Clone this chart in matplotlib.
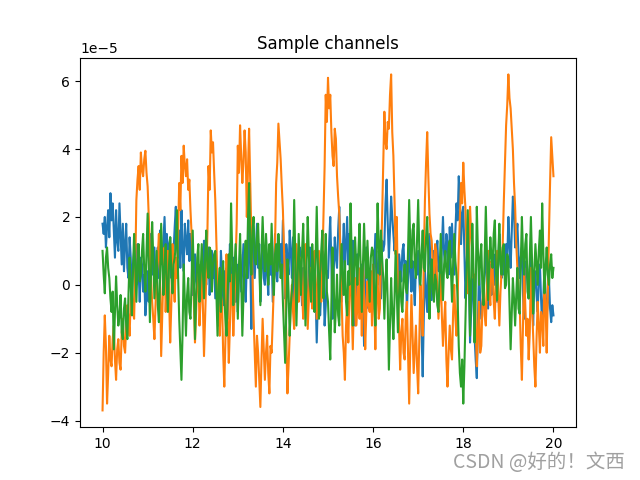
import numpy as np
import matplotlib; matplotlib.use("Agg")
import matplotlib.pyplot as plt

# three channels, values in units of 1e-5, one every 0.025 s from 10 s to 20 s
ch1 = [1.8, 1.5, 2.0, 1.1, 1.7, 2.2, 1.4, 2.7, 1.9, 2.4,
       1.6, 0.8, 2.2, 1.3, 1.0, 2.4, 1.5, 0.6, 1.8, 0.4,
       1.2, 1.8, 0.5, 0.2, 1.4, 0.8, -0.3, 0.6, 1.0, 0.3,
       0.0, 1.2, 0.4, -0.5, 0.8, 0.6, -0.2, 0.3, -0.9, -0.4,
       0.4, -0.5, 0.9, 1.5, 0.3, 0.7, 1.1, 0.0, 0.6, 1.1,
       0.2, 1.6, 0.9, 0.6, 1.3, 2.0, 0.8, 1.5, 0.5, 1.2,
       1.4, 0.2, 0.9, 1.0, 1.7, 2.3, 1.1, 0.8, 1.6, 0.5,
       2.2, 1.0, 0.4, 1.8, 1.3, 0.9, 1.9, 0.7, 1.5, 1.0,
       -0.3, 0.5, 0.9, 0.1, -0.1, 0.6, 0.3, -0.2, 0.7, 0.0,
       1.3, 0.4, 0.0, 0.8, 1.1, -0.3, 0.5, 1.0, 0.2, 0.7,
       -0.4, 0.7, 0.2, -1.2, -0.5, 1.0, 0.3, -0.6, 0.4, -0.2,
       0.5, -1.0, 0.1, 1.2, 0.4, -0.3, 0.8, 0.0, -0.5, 0.6,
       -0.8, 0.3, 0.9, -0.2, 0.5, 1.2, 0.1, -0.5, 0.7, 0.2,
       2.2, 0.8, -1.3, 0.4, 1.5, 0.2, 1.0, 1.8, 0.5, 1.2,
       -0.5, 0.6, 1.3, 0.2, 0.0, 0.9, 0.4, -0.3, 0.8, 0.3,
       1.0, -0.5, 0.5, 1.5, 0.3, 0.1, 0.9, 0.7, 1.2, 0.4,
       1.9, 0.6, -0.4, 1.2, 0.8, 0.3, 1.6, 1.0, 0.2, 1.4,
       -0.8, 0.3, 0.8, -0.2, 0.4, 1.1, 0.0, -0.6, 0.5, 0.2,
       0.6, -0.2, -1.0, 0.4, 1.1, 0.1, -0.4, 0.8, 0.5, -0.3,
       -1.7, -0.5, 0.3, -0.9, -0.2, 1.0, 0.2, -1.2, -0.6, 0.4,
       0.2, 1.2, 2.0, 0.6, -1.0, 0.3, 1.4, 0.8, 0.5, 1.6,
       2.3, 1.0, -0.5, 0.9, 1.8, 0.4, 1.2, 2.0, 0.6, 1.5,
       -0.3, 0.6, 1.3, 0.2, -1.2, -0.2, 0.9, 0.3, -0.6, 0.5,
       0.6, -0.4, -1.8, 0.2, 1.1, 0.3, -0.7, -0.1, 0.4, -0.5,
       -0.7, 0.5, 1.5, 0.4, 0.0, 1.0, 0.6, -0.4, 1.3, 1.0,
       1.2, 2.4, 3.1, 1.8, 0.8, 1.6, 2.6, 2.0, 1.5, 1.0,
       1.4, 0.5, -0.3, 0.9, 0.6, 0.1, 1.0, 1.2, 0.3, 0.7,
       -0.8, 0.2, 1.2, 0.4, -0.2, 0.7, 0.0, -0.6, 0.6, 0.3,
       1.0, 0.2, -0.5, -1.4, -2.7, -0.9, 0.4, -0.2, -0.8, 0.6,
       1.5, 0.5, -0.45, 0.6, 1.0, 0.2, 0.9, 1.3, 0.4, 0.8,
       0.0, 1.1, 2.0, 0.9, 0.6, 1.5, 1.2, 0.3, 1.7, 0.8,
       1.8, 0.9, 0.3, 1.6, 2.4, 1.9, 3.2, 2.5, 1.2, 2.1,
       2.3, 1.0, -0.4, 0.6, 1.4, 0.2, -1.7, -0.8, 0.5, -0.3,
       -1.5, -2.2, -2.75, -1.2, 0.5, -0.4, -1.0, -0.6, -0.2, 0.3,
       1.1, 0.3, -0.7, 0.2, 0.6, -0.3, 0.4, 0.9, 0.0, 0.5,
       -0.5, 0.6, 1.5, 0.8, 0.2, 1.0, 0.3, 0.4, 1.2, 0.7,
       2.0, 1.2, 0.5, 1.6, 2.6, 2.2, 1.1, 1.4, 1.8, 0.9,
       0.2, 0.8, 1.1, -0.3, -1.0, 0.1, 0.7, 0.3, -0.4, 0.5,
       1.0, -0.2, -1.2, 0.1, 0.4, -0.3, -0.8, 0.2, 0.6, -0.4,
       -1.2, -0.4, 0.5, -0.2, -0.9, -0.5, 0.2, -0.7, -1.1, -0.6,
       -0.9]
ch2 = [-3.7, -2.0, -0.9, -1.8, -3.5, -2.6, -1.5, -2.2, -2.4, -1.6,
       -1.2, -2.2, -2.8, -1.9, -1.6, -2.3, -2.5, -1.4, -1.0, -1.8,
       -2.0, -1.2, -0.6, -1.0, -1.5, -0.4, 0.0, -0.8, -1.0, 0.5,
       2.5, 3.1, 3.5, 2.8, 3.9, 3.4, 3.2, 3.7, 3.95, 3.3,
       2.9, 2.0, 1.0, 0.2, -0.5, -1.0, -1.6, -0.6, 0.3, 0.8,
       1.5, 0.3, -2.1, -0.9, 0.4, 1.1, -0.8, 0.2, 1.0, -0.3,
       -1.7, -0.6, 1.2, 0.1, -0.5, 0.8, 0.2, 1.5, 3.0, 2.2,
       3.8, 3.0, 4.1, 3.5, 3.2, 3.7, 2.8, 3.1, 2.2, 1.5,
       0.9, -0.5, -1.7, -0.8, 0.2, 0.6, -1.2, -0.4, 0.5, -0.6,
       -2.1, -1.0, 0.2, 1.5, 3.5, 2.8, 4.55, 3.9, 4.2, 3.3,
       2.5, 1.2, 0.0, -0.8, -1.5, -0.3, -0.5, -2.0, -3.0, -1.6,
       0.9, -0.8, -2.3, -1.2, 0.3, -0.2, -1.5, -0.6, 0.6, 1.8,
       4.1, 3.3, 4.7, 3.8, 3.0, 3.6, 4.55, 3.9, 2.0, 3.4,
       4.6, 3.0, 1.5, 0.2, -1.0, -2.0, -3.0, -1.5, -2.0, -2.8,
       -3.6, -2.2, -1.0, -1.9, -2.8, -2.0, -1.5, -2.6, -3.2, -1.8,
       -2.0, -1.0, 0.0, 1.2, 3.0, 3.6, 4.75, 4.2, 3.7, 2.9,
       2.2, 1.0, 0.0, -1.5, -3.2, -2.4, -1.5, -0.5, 0.0, -0.8,
       -1.3, 0.2, 1.2, 0.3, -0.5, 0.6, 0.8, -0.2, -1.0, 0.4,
       1.2, 0.1, -1.3, -0.4, 0.5, -0.2, -0.7, 0.6, 1.0, 0.0,
       -1.0, 0.2, 1.0, 0.3, -0.5, 0.6, 2.0, 3.5, 5.6, 4.8,
       6.1, 5.2, 5.6, 4.5, 3.8, 3.5, 4.6, 4.3, 3.2, 2.6,
       2.1, 0.9, -0.3, -1.5, -2.0, -2.8, -1.2, -0.5, -1.7, -0.2,
       0.7, -0.6, -1.9, -0.4, 0.2, -1.2, -0.7, 0.5, -1.0, 0.1,
       -1.5, 0.7, -0.3, -1.9, -0.8, 0.1, -0.6, -0.8, 0.4, -1.2,
       0.6, -0.5, -1.9, -0.2, 0.3, -1.0, -0.7, 0.8, 2.0, 3.6,
       5.1, 4.2, 4.0, 4.8, 4.6, 5.6, 6.2, 4.5, 3.8, 2.5,
       0.9, 2.0, -0.3, -1.2, -2.5, -1.4, -1.0, -2.0, -2.2, -0.9,
       -0.5, -2.0, -3.5, -1.8, -0.3, -1.5, -2.6, -1.9, -1.2, -2.4,
       -3.2, -1.6, 0.0, -0.8, -1.5, 0.8, 2.5, 3.6, 4.5, 3.2,
       2.1, 1.5, 1.3, 0.5, 0.0, 1.2, 1.0, -0.2, -1.0, -0.3,
       0.3, -0.9, -1.8, -1.1, -0.5, -2.2, -3.0, -2.0, -1.2, -1.9,
       -2.2, -0.8, 0.0, -1.0, -1.5, -0.4, 1.0, 2.0, 3.0, 2.4,
       3.6, 2.8, 2.2, 1.0, -0.25, 0.8, 2.3, 1.5, 1.0, 0.2,
       0.3, -1.0, -2.4, -1.4, -0.5, -2.0, -1.8, -0.6, 0.2, -0.9,
       -1.2, 0.0, 1.0, -0.2, -0.6, 0.7, 0.5, -0.5, -1.0, 0.2,
       1.0, -0.3, -1.2, -0.2, 0.4, 1.2, 2.5, 3.6, 4.7, 5.3,
       6.2, 5.5, 5.2, 4.6, 4.0, 3.0, 2.3, 1.2, 0.5, -0.2,
       -0.5, -1.8, -2.8, -1.2, 0.5, -0.6, -1.5, -1.0, -2.2, -1.4,
       0.5, -0.6, -1.5, -2.4, -3.0, -1.6, -0.5, -1.2, -2.0, -0.8,
       -1.0, -1.8, 0.5, -0.6, -2.0, -0.2, 1.5, 3.0, 4.35, 3.8,
       3.2]
ch3 = [1.0, 0.3, -0.25, 0.8, 1.1, 0.5, 0.2, -0.4, -0.8, -0.2,
       -1.9, -0.8, 0.25, -0.6, -1.2, -0.9, -0.3, -1.4, -1.6, -0.7,
       -0.4, -1.2, -1.6, -0.3, 0.8, 0.0, -0.9, 0.4, 1.5, 0.6,
       -0.5, 0.6, 1.2, 0.1, 0.3, 1.0, 1.5, 0.4, -0.2, 0.9,
       2.1, 0.5, -1.1, 0.4, 1.85, 0.8, -0.4, 0.3, 1.0, -0.6,
       -1.1, 0.2, 1.8, 0.7, -0.3, 0.5, 1.2, 0.0, -0.8, 0.6,
       1.4, 0.4, -0.25, 0.6, 0.8, 1.2, 2.2, 0.3, -1.0, -1.9,
       -2.8, -1.4, 0.6, -0.5, -1.5, -0.3, 0.2, -0.8, -1.0, 0.1,
       1.6, 0.2, -1.6, -0.4, 0.8, 1.2, -0.5, 0.3, 1.2, 0.4,
       -0.4, 0.8, 1.6, 0.5, 0.2, 1.1, 1.0, -0.2, 0.6, 0.9,
       1.0, -0.3, -1.5, 0.0, 0.5, -0.8, 0.2, 0.7, -0.4, -1.0,
       -1.5, -0.2, 0.9, 0.1, 2.4, 1.0, -0.6, 0.4, 1.2, 0.3,
       -1.0, 0.5, 1.5, 0.2, -1.5, -0.3, 0.8, 1.3, 0.2, 1.9,
       3.0, 1.2, 0.3, 1.6, 2.0, 0.8, 0.6, 1.4, 1.8, 0.7,
       -0.6, 0.9, 2.0, 1.0, 0.4, 1.5, 0.8, 0.0, 1.2, 0.6,
       1.8, 0.5, -0.3, 0.9, 1.2, 0.4, 1.5, 0.8, 0.2, 0.6,
       -0.5, -1.4, -2.3, -0.8, 0.75, -0.2, -1.5, -0.6, -0.2, 0.5,
       2.5, 0.8, -1.2, 0.2, 1.5, 0.6, -0.3, 1.0, 1.8, 0.4,
       -1.2, 0.6, 2.0, 0.9, 0.0, -0.5, 1.2, 0.4, -0.8, 0.7,
       2.3, 0.6, -1.0, 0.3, 1.0, 1.6, -0.4, 0.5, 1.5, -0.2,
       -0.5, -1.4, -2.2, -0.6, 1.1, 0.2, -1.4, -0.7, 0.3, -0.9,
       -1.2, 0.3, 1.2, 0.2, -0.3, 0.7, -0.5, -0.9, 0.4, 0.0,
       2.4, 0.9, -1.2, 0.4, 1.4, 0.6, 0.0, 1.0, 1.8, 0.5,
       -0.8, 0.6, 1.8, 0.7, 0.2, 1.3, 0.4, -0.5, 0.8, 1.1,
       1.0, -0.4, -1.2, 0.6, 2.4, 1.2, 0.3, 1.6, 0.8, 0.2,
       -1.0, 0.1, 0.75, -0.6, -2.5, -1.2, 0.2, -0.8, -1.6, -0.4,
       1.0, -0.2, -1.4, -0.3, 0.4, -0.5, -0.8, 0.2, 0.6, -0.1,
       -0.25, 1.0, 2.5, 1.2, 0.5, 1.6, 1.8, 0.6, 0.2, 1.3,
       2.5, 1.0, 0.0, 0.9, 1.6, 0.5, 0.4, 1.4, 2.0, 0.8,
       -1.0, 0.2, 0.75, -0.2, -0.5, 0.3, 0.1, -0.6, -0.8, 0.4,
       1.5, 0.3, -0.45, 0.6, 1.0, 0.4, 0.2, 1.1, 1.3, 0.5,
       -0.5, 0.6, 1.5, 0.7, 0.3, -0.4, -1.8, -2.6, -3.0, -2.2,
       -3.5, -2.4, -1.0, 0.5, 2.2, 0.4, -1.5, 0.2, 1.8, 0.6,
       -1.7, -0.3, 2.3, 1.0, 0.0, 0.8, 1.2, -0.2, -0.6, 0.9,
       2.3, 0.9, -0.45, 0.6, 1.4, 0.8, 0.5, 1.5, 1.9, 0.4,
       -0.45, 0.8, 1.8, 0.6, 0.3, 1.1, 1.2, -0.1, 0.0, 0.9,
       0.75, -0.6, -1.9, -0.8, 0.2, -0.4, -1.2, -0.3, 0.5, -0.7,
       -0.85, 0.6, 2.0, 0.9, 0.3, 1.2, 1.5, -0.2, -0.4, 0.8,
       2.0, 0.7, -0.85, 0.4, 1.2, 0.6, 0.0, 1.0, 1.6, 0.5,
       2.4, 1.0, -0.25, 0.5, 1.1, 0.3, 0.0, 0.6, 0.9, 0.2,
       0.5]

t_start, t_stop = 10.0, 20.0
times = np.linspace(t_start, t_stop, len(ch1))

fig, ax = plt.subplots(figsize=(6.4, 4.8), dpi=100)
for ch in (ch1, ch2, ch3):
    ax.plot(times, np.array(ch) * 1e-5)
ax.set_title("Sample channels")

fig.text(0.977, 0.014, "CSDN @好的！文西", ha="right", va="bottom", fontsize=14,
         color="#a0a0a0", family=["Noto Sans CJK SC", "DejaVu Sans"])

fig.savefig("out.png", dpi=100)
